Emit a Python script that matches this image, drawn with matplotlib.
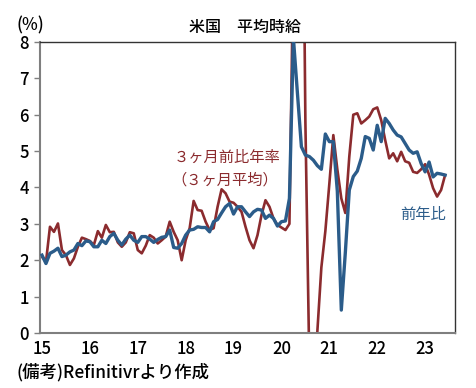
# -*- coding: utf-8 -*-
# US average hourly earnings: YoY and 3-month annualised (3-month average)

import matplotlib
matplotlib.use('Agg')
import matplotlib.pyplot as plt
import numpy as np

plt.rcParams['font.family'] = ['Noto Sans CJK JP', 'DejaVu Sans']

# ---- Data (monthly, Jan 2015 - Jun 2023)
yoy = [
    2.14, 1.91, 2.19, 2.25, 2.33, 2.10, 2.14, 2.23, 2.28, 2.46, 2.40, 2.53,  # 2015
    2.51, 2.37, 2.37, 2.55, 2.46, 2.65, 2.74, 2.55, 2.42, 2.58, 2.69, 2.55,  # 2016
    2.49, 2.65, 2.65, 2.58, 2.49, 2.57, 2.63, 2.65, 2.83, 2.35, 2.33, 2.46,  # 2017
    2.69, 2.83, 2.85, 2.92, 2.90, 2.90, 2.78, 3.06, 3.12, 3.30, 3.47, 3.56,  # 2018
    3.27, 3.47, 3.47, 3.33, 3.20, 3.33, 3.40, 3.38, 3.15, 3.24, 3.15, 2.94,  # 2019
    3.06, 3.08, 3.70, 8.10, 6.60, 5.12, 4.89, 4.85, 4.75, 4.60, 4.50, 5.47,  # 2020
    5.26, 5.26, 3.90, 0.63, 2.20, 3.93, 4.30, 4.45, 4.80, 5.40, 5.35, 5.03,  # 2021
    5.71, 5.26, 5.90, 5.76, 5.58, 5.44, 5.39, 5.21, 5.03, 4.94, 4.98, 4.66,  # 2022
    4.43, 4.70, 4.29, 4.39, 4.37, 4.34,                                      # 2023
]
ann3m = [
    2.10, 1.95, 2.92, 2.78, 3.01, 2.28, 2.14, 1.87, 2.05, 2.37, 2.62, 2.58,  # 2015
    2.53, 2.42, 2.80, 2.62, 2.97, 2.77, 2.78, 2.49, 2.37, 2.49, 2.77, 2.74,  # 2016
    2.28, 2.19, 2.40, 2.69, 2.62, 2.46, 2.55, 2.65, 3.06, 2.78, 2.55, 2.00,  # 2017
    2.55, 2.88, 3.63, 3.38, 3.36, 3.06, 2.83, 2.88, 3.47, 3.95, 3.84, 3.61,  # 2018
    3.58, 3.47, 3.33, 2.92, 2.55, 2.33, 2.69, 3.24, 3.65, 3.47, 3.15, 2.97,  # 2019
    2.90, 2.83, 3.00, 10.4, 15.3, 17.4, 5.80, -0.95, -3.6, 0.05, 1.80, 2.80,  # 2020
    4.10, 5.44, 4.50, 3.70, 3.30, 4.85, 6.00, 6.04, 5.76, 5.85, 5.95, 6.15,  # 2021
    6.20, 5.85, 5.30, 4.80, 4.94, 4.72, 4.98, 4.72, 4.68, 4.43, 4.40, 4.50,  # 2022
    4.64, 4.35, 3.98, 3.75, 3.93, 4.34,                                      # 2023
]
year_labels = ['15', '16', '17', '18', '19', '20', '21', '22', '23']
months = np.arange(len(yoy))

red = '#8b2b2e'
blue = '#2b5c8a'

# ---- Figure
fig = plt.figure(figsize=(4.76, 3.88), dpi=100)
ax = fig.add_axes([0.084, 0.1418, 0.872, 0.75])

ax.plot(months, ann3m, '-', color=red, lw=1.9, zorder=2)
ax.plot(months, yoy, '-', color=blue, lw=2.4, zorder=3)

ax.set_ylim(0, 8)
ax.set_xlim(-0.5, 103.5)
ax.set_yticks(range(0, 9))
ax.set_xticks(np.arange(0, 12 * len(year_labels), 12))
ax.set_xticklabels(year_labels)
ax.tick_params(axis='y', direction='out', length=4, width=1,
               color='#7f7f7f', labelsize=12, pad=4)
ax.tick_params(axis='x', length=0, labelsize=12, pad=5)
for lab in ax.get_xticklabels() + ax.get_yticklabels():
    lab.set_fontweight('medium')

for side in ['left', 'bottom']:
    ax.spines[side].set_color('#7f7f7f')
    ax.spines[side].set_linewidth(1.5)
for side in ['top', 'right']:
    ax.spines[side].set_color('#333333')
    ax.spines[side].set_linewidth(1.0)

# ---- Texts
fig.text(0.514, 0.930, '米国　平均時給', ha='center', va='center',
         fontsize=11.5, fontweight='medium')
fig.text(0.063, 0.935, '(%)', ha='center', va='center', fontsize=12,
         fontweight='medium')
fig.text(0.034, 0.042, '(備考)Refinitivrより作成', ha='left', va='center',
         fontsize=12.5, fontweight='medium')
fig.text(0.477, 0.595, '３ヶ月前比年率', ha='center', va='center',
         fontsize=11, color=red)
fig.text(0.473, 0.536, '（３ヶ月平均）', ha='center', va='center',
         fontsize=11, color=red)
fig.text(0.889, 0.446, '前年比', ha='center', va='center',
         fontsize=11, color=blue)

fig.savefig('out.png', dpi=100)
